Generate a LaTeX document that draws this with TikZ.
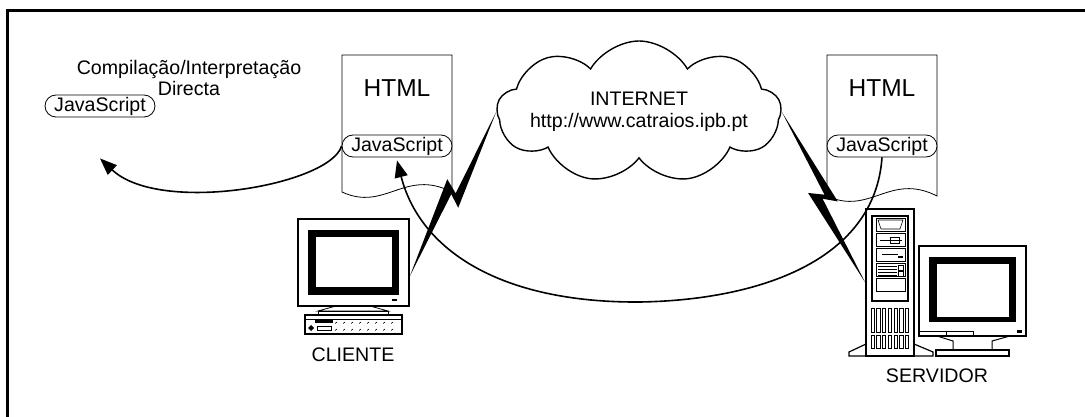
\documentclass[tikz,border=0pt]{standalone}
\usepackage{fontspec}
\setmainfont{Liberation Sans}
\usetikzlibrary{calc,shapes.symbols,arrows.meta}

\newcommand\nodefont{\fontsize{19.6}{21.5}\selectfont}
\newcommand\bigfont{\fontsize{24.5}{29}\selectfont}

% lightning bolt between two points
\newcommand\zap[2]{%
  \fill (#1) -- ($(#1)!.556!(#2)!12pt!90:(#2)$) -- ($(#1)!.51!(#2)!2pt!-90:(#2)$)
    -- (#2) -- ($(#1)!.447!(#2)!11pt!-90:(#2)$) -- ($(#1)!.495!(#2)!1.5pt!90:(#2)$)
    -- cycle;}

\begin{document}
\begin{tikzpicture}[x=1pt, y=-1pt,
    pill/.style={draw, line width=.8pt, fill=white, rounded corners=11pt,
                 minimum width=110pt, minimum height=22pt, inner sep=0pt,
                 font=\nodefont},
    page/.style={draw, line width=.8pt, fill=white},
    flow/.style={line width=1.6pt, -{Triangle[length=17pt,width=13pt]}},
    tag/.style={font=\nodefont, align=center},
    screen/.style={draw, line width=1.8pt, fill=white, inner sep=0pt},
  ]
  \useasboundingbox (0,0) rectangle (1085,417);
  % frame
  \draw[line width=3pt] (7,430) -- (7,11) -- (1100,11);

  % HTML pages
  \foreach \px/\py in {342/192,827/196}{
    \draw[page] (\px,55) -- (\px,\py) .. controls +(43,20) and +(-47,-24)
      .. (\px+110,\py) -- (\px+110,55) -- cycle;
  }
  \node[font=\bigfont] (htmlL) at (397,88) {HTML};
  \node[pill] (jsdoc) at (397,146) {JavaScript};
  \node[font=\bigfont] (htmlR) at (882,88) {HTML};
  \node[pill] (jsright) at (882,146) {JavaScript};

  \node[tag] (compil) at (189,78) {Compilação/Interpretação\\Directa};
  \node[pill] (jsleft) at (100,106) {JavaScript};

  \node[cloud, draw, line width=1.4pt, cloud puffs=9, cloud puff arc=120,
        cloud ignores aspect, minimum width=284pt, minimum height=142pt,
        inner sep=0pt] (net) at (639,112) {};
  \node[tag] (nettxt) at (net.center) {INTERNET\\http://www.catraios.ipb.pt};

  % client computer
  \node[screen, minimum width=111pt, minimum height=87pt] (clmon) at (353.5,262.5) {};
  \fill (308,230) rectangle (399,295);
  \fill[white] (316,237) rectangle (392,287);
  \fill (392,299) rectangle (397,301);
  \draw[line width=.8pt] (336,306) -- (318,311) -- (388,311) -- (370,306);
  \draw[line width=.8pt] (318,311) rectangle (388,315);
  \draw[line width=1.2pt] (305,315) rectangle (402,334);
  \draw[line width=.6pt] (305,319) -- (402,319);
  \fill (315,319) rectangle (333,322.5);
  \draw[line width=.6pt] (317,326.5) rectangle (331,330);
  \fill (311,325) -- (314,328) -- (311,331) -- (308,328) -- cycle;
  \foreach \kx in {337,345,...,397}
    \draw[line width=.6pt] (\kx,322) -- +(-2,1.5) (\kx,329) -- +(-2,1.5);
  \node[tag] (client) at (353,355) {CLIENTE};

  % server tower
  \node[screen, line width=1.6pt, minimum width=48pt, minimum height=147pt] (tower) at (890,282.5) {};
  \draw[line width=1.2pt] (872,216) rectangle (908,301);
  \foreach \by in {218,233,248,263,278}
    \draw[line width=.8pt] (876,\by) rectangle (905,\by+13);
  \draw[line width=.6pt] (878,220) -- (903,220) -- (900,229) -- (881,229) -- cycle;
  \draw[line width=.6pt] (880,240) -- (902,240) (890,237) rectangle (899,243);
  \draw[line width=1pt] (882,254) -- (898,254);
  \fill (898,256) rectangle (903,258);
  \foreach \ly in {266,269,272,275}
    \draw[line width=.5pt] (878,\ly) -- (897,\ly);
  \draw[line width=.5pt] (898,265) rectangle (903,270) (898,271) rectangle (903,276);
  \foreach \vx in {871,876.7,...,906}{
    \draw[line width=.6pt] (\vx,308) rectangle +(3.3,24);
    \draw[line width=.6pt] (\vx,335) rectangle +(3.3,13);
  }
  \draw[line width=1.2pt] (866,344) -- (849,352) -- (849,356) -- (933,356)
    -- (933,352) -- (914,344);

  % server monitor
  \node[screen, minimum width=107pt, minimum height=90pt] (srvmon) at (972.5,291) {};
  \fill (929,257) rectangle (1016,322);
  \fill[white] (937,264) rectangle (1009,317);
  \fill (1017,330) rectangle (1022,332.5);
  \draw[line width=.6pt] (920,331) -- (973,331) -- (973,336) (946,331) -- (946,336);
  \draw[line width=1pt] (937,336) -- (953,341) -- (953,350)
    (1010,336) -- (992,341) -- (992,350);
  \draw[line width=1.2pt] (936,350) rectangle (1009,356);
  \node[tag] (server) at (937,376) {SERVIDOR};

  % script flows
  \draw[flow] (jsdoc.west) .. controls (330,185) and (160,215)
    .. ([yshift=-41pt]jsleft.south);
  \draw[flow] (jsright.south) .. controls (875,260) and (760,300) .. (640,302)
    .. controls (500,303) and (420,250) .. ([yshift=-3pt]jsdoc.south);

  % links to the net
  \coordinate (clport) at ([yshift=-13.5pt]clmon.east);
  \coordinate (srvport) at (tower.west);
  \zap{clport}{net.west}
  \zap{srvport}{net.east}
\end{tikzpicture}
\end{document}
